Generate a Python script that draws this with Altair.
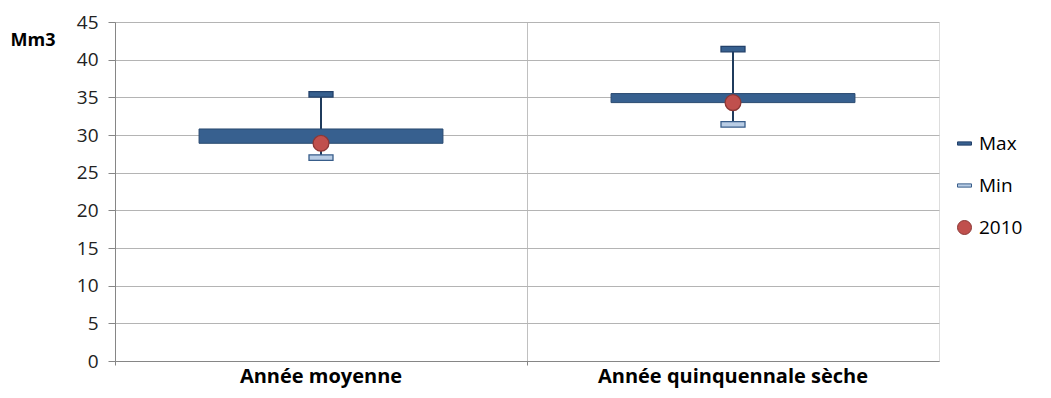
import altair as alt
import pandas as pd

categories = ["Année moyenne", "Année quinquennale sèche"]
max_vals = [35.4, 41.4]
min_vals = [27.0, 31.4]
vals_2010 = [28.9, 34.3]
box_high = [30.8, 35.5]

series_names = ["Max", "Min", "2010"]
y_ticks = [0, 5, 10, 15, 20, 25, 30, 35, 40, 45]

FONT = "Open Sans"
DASH = "M-1,-0.23L1,-0.23L1,0.23L-1,0.23Z"

ranges = pd.DataFrame({
    "cat": categories,
    "lo": min_vals,
    "hi": max_vals,
    "b_lo": vals_2010,
    "b_hi": box_high,
})

pts = pd.DataFrame({
    "cat": categories * 3,
    "series": ["Max"] * 2 + ["Min"] * 2 + ["2010"] * 2,
    "value": max_vals + min_vals + vals_2010,
})

x_axis = alt.Axis(
    labelAngle=0,
    labelFont=FONT,
    labelFontSize=20,
    labelFontWeight="bold",
    labelColor="#000000",
    labelPadding=1,
    labelLimit=600,
    tickSize=4,
    tickColor="#868686",
    domainColor="#868686",
    grid=True,
    gridColor="#c0c0c0",
    bandPosition=0,
    ticks=True,
)
x_scale = alt.Scale(paddingInner=0, paddingOuter=0)

y_scale = alt.Scale(domain=[0, 45], nice=False)
y_axis = alt.Axis(
    values=y_ticks,
    title="Mm3",
    titleAngle=0,
    titleX=-105,
    titleY=18,
    titleAlign="left",
    titleBaseline="middle",
    titleFont=FONT,
    titleFontSize=18,
    titleFontWeight="bold",
    titleColor="#000000",
    labelFont=FONT,
    labelFontSize=19,
    labelColor="#222222",
    labelPadding=10,
    labelOverlap=False,
    tickSize=7,
    tickColor="#868686",
    domainColor="#868686",
    grid=True,
    gridColor="#b4b4b4",
)

def X():
    return alt.X("cat:N", sort=categories, title=None, scale=x_scale, axis=x_axis)

rule = alt.Chart(ranges).mark_rule(color="#1f3b5c", strokeWidth=2).encode(
    x=X(),
    y=alt.Y("lo:Q", scale=y_scale, axis=y_axis),
    y2="hi:Q",
)

box = alt.Chart(ranges).mark_bar(
    color="#37608f", stroke="#2a4a70", strokeWidth=1,
    width=alt.RelativeBandSize(0.592),
).encode(
    x=X(),
    y=alt.Y("b_lo:Q", scale=y_scale, axis=y_axis),
    y2="b_hi:Q",
)

fill_scale = alt.Scale(domain=series_names, range=["#37608f", "#b9cde5", "#c0504d"])
stroke_scale = alt.Scale(domain=series_names, range=["#23416a", "#385d8a", "#8c3836"])
shape_scale = alt.Scale(domain=series_names, range=[DASH, DASH, "circle"])

legend = alt.Legend(
    title=None,
    orient="none",
    legendX=840,
    legendY=112,
    labelFont=FONT,
    labelFontSize=19,
    labelColor="#000000",
    symbolSize=196,
    symbolStrokeWidth=1,
    rowPadding=22,
    labelOffset=5,
)

def point_layer(names, size):
    return alt.Chart(pts).transform_filter(
        alt.FieldOneOfPredicate(field="series", oneOf=names)
    ).mark_point(filled=True, opacity=1, strokeWidth=1.3, size=size).encode(
        x=X(),
        y=alt.Y("value:Q", scale=y_scale, axis=y_axis),
        fill=alt.Fill("series:N", scale=fill_scale, sort=series_names, legend=legend),
        stroke=alt.Stroke("series:N", scale=stroke_scale, sort=series_names, legend=legend),
        shape=alt.Shape("series:N", scale=shape_scale, sort=series_names, legend=legend),
    )

dashes = point_layer(["Max", "Min"], 576)
circles = point_layer(["2010"], 250)

chart = alt.layer(rule, box, dashes, circles).properties(
    width=824,
    height=339,
    autosize=alt.AutoSizeParams(type="none"),
    padding={"left": 107, "top": 14, "right": 104, "bottom": 28},
).configure_view(stroke="#b4b4b4").configure(background="white")

chart.save("out.html", embed_options={"renderer": "svg", "actions": False})
